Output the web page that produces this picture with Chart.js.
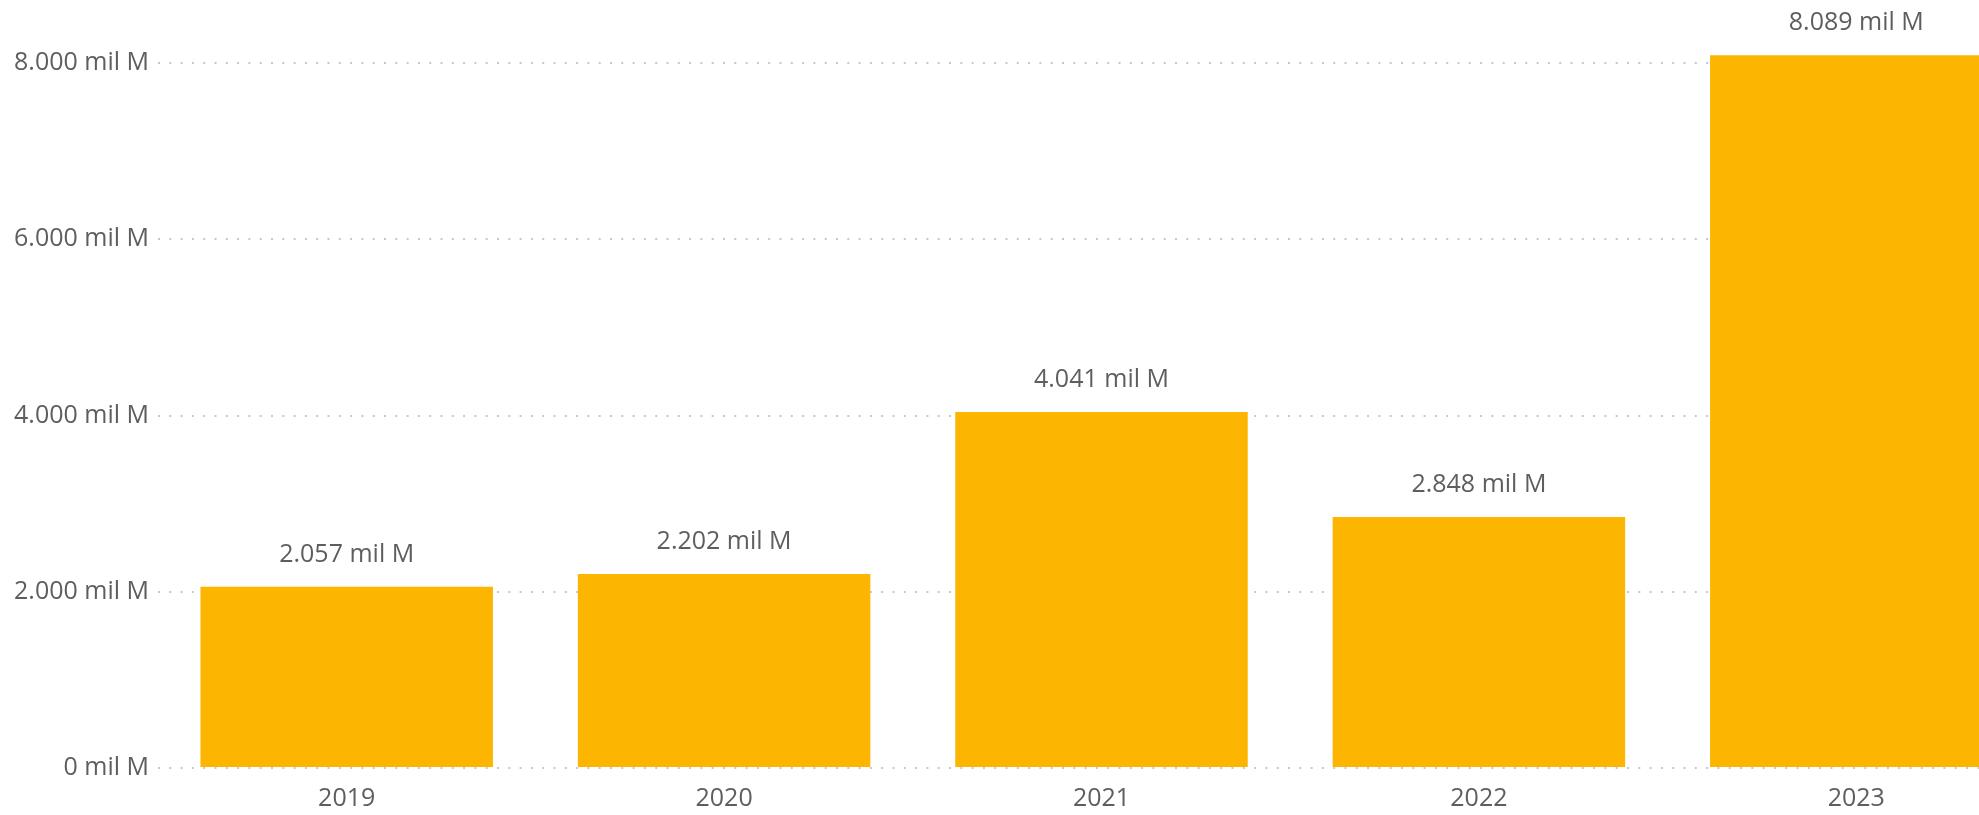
<!DOCTYPE html>
<html>
<head>
<meta charset="utf-8">
<script src="https://cdn.jsdelivr.net/npm/chart.js@4"></script>
<style>
  html, body { margin: 0; padding: 0; background: #fff; overflow: hidden; }
  #wrap { width: 2045px; height: 815px; }
</style>
</head>
<body>
<div id="wrap"><canvas id="chart" width="2045" height="815"></canvas></div>
<script>
// values in "mil M"
const years = ['2019', '2020', '2021', '2022', '2023'];
const amounts = [2057, 2202, 4041, 2848, 8089];
const yTickValues = [0, 2000, 4000, 6000, 8000];
const yTickLabels = ['0 mil M', '2.000 mil M', '4.000 mil M', '6.000 mil M', '8.000 mil M'];

const textColor = '#605e5c';
const fontFamily = '"Segoe UI", "Open Sans", sans-serif';

function fmt(v) {
    // thousands separator "."
    return String(v).replace(/\B(?=(\d{3})+(?!\d))/g, '.') + ' mil M';
}

const barLabels = {
    id: 'barLabels',
    afterDatasetsDraw(chart) {
        const ctx = chart.ctx;
        const meta = chart.getDatasetMeta(0);
        ctx.save();
        ctx.font = '25px ' + fontFamily;
        ctx.fillStyle = textColor;
        ctx.textAlign = 'center';
        ctx.textBaseline = 'middle';
        meta.data.forEach((bar, i) => {
            ctx.fillText(fmt(amounts[i]), bar.x, bar.y - 32);
        });
        ctx.restore();
    }
};

new Chart(document.getElementById('chart'), {
    type: 'bar',
    data: {
        labels: years,
        datasets: [{
            data: amounts,
            backgroundColor: '#fcb500',
            borderWidth: 0,
            barPercentage: 0.775,
            categoryPercentage: 1,
            clip: false
        }]
    },
    options: {
        responsive: false,
        animation: false,
        layout: { padding: { top: 63, bottom: 0, left: 0, right: 0 } },
        plugins: {
            legend: { display: false },
            tooltip: { enabled: false }
        },
        scales: {
            x: {
                afterFit(scale) {
                    scale.height = 47;
                },
                grid: { display: false },
                border: { display: false },
                ticks: {
                    color: textColor,
                    padding: 8,
                    font: { family: fontFamily, size: 25 }
                }
            },
            y: {
                min: 0,
                max: 8000,
                afterBuildTicks(scale) {
                    scale.ticks = yTickValues.map(v => ({ value: v }));
                },
                afterFit(scale) {
                    scale.width = 158;
                },
                grid: {
                    drawTicks: false,
                    color: '#c8c8c8',
                    lineWidth: 2
                },
                border: { display: false, dash: [2, 9.3] },
                ticks: {
                    color: textColor,
                    padding: 9,
                    font: { family: fontFamily, size: 25 },
                    callback: (v) => yTickLabels[yTickValues.indexOf(v)]
                }
            }
        }
    },
    plugins: [barLabels]
});
</script>
</body>
</html>
